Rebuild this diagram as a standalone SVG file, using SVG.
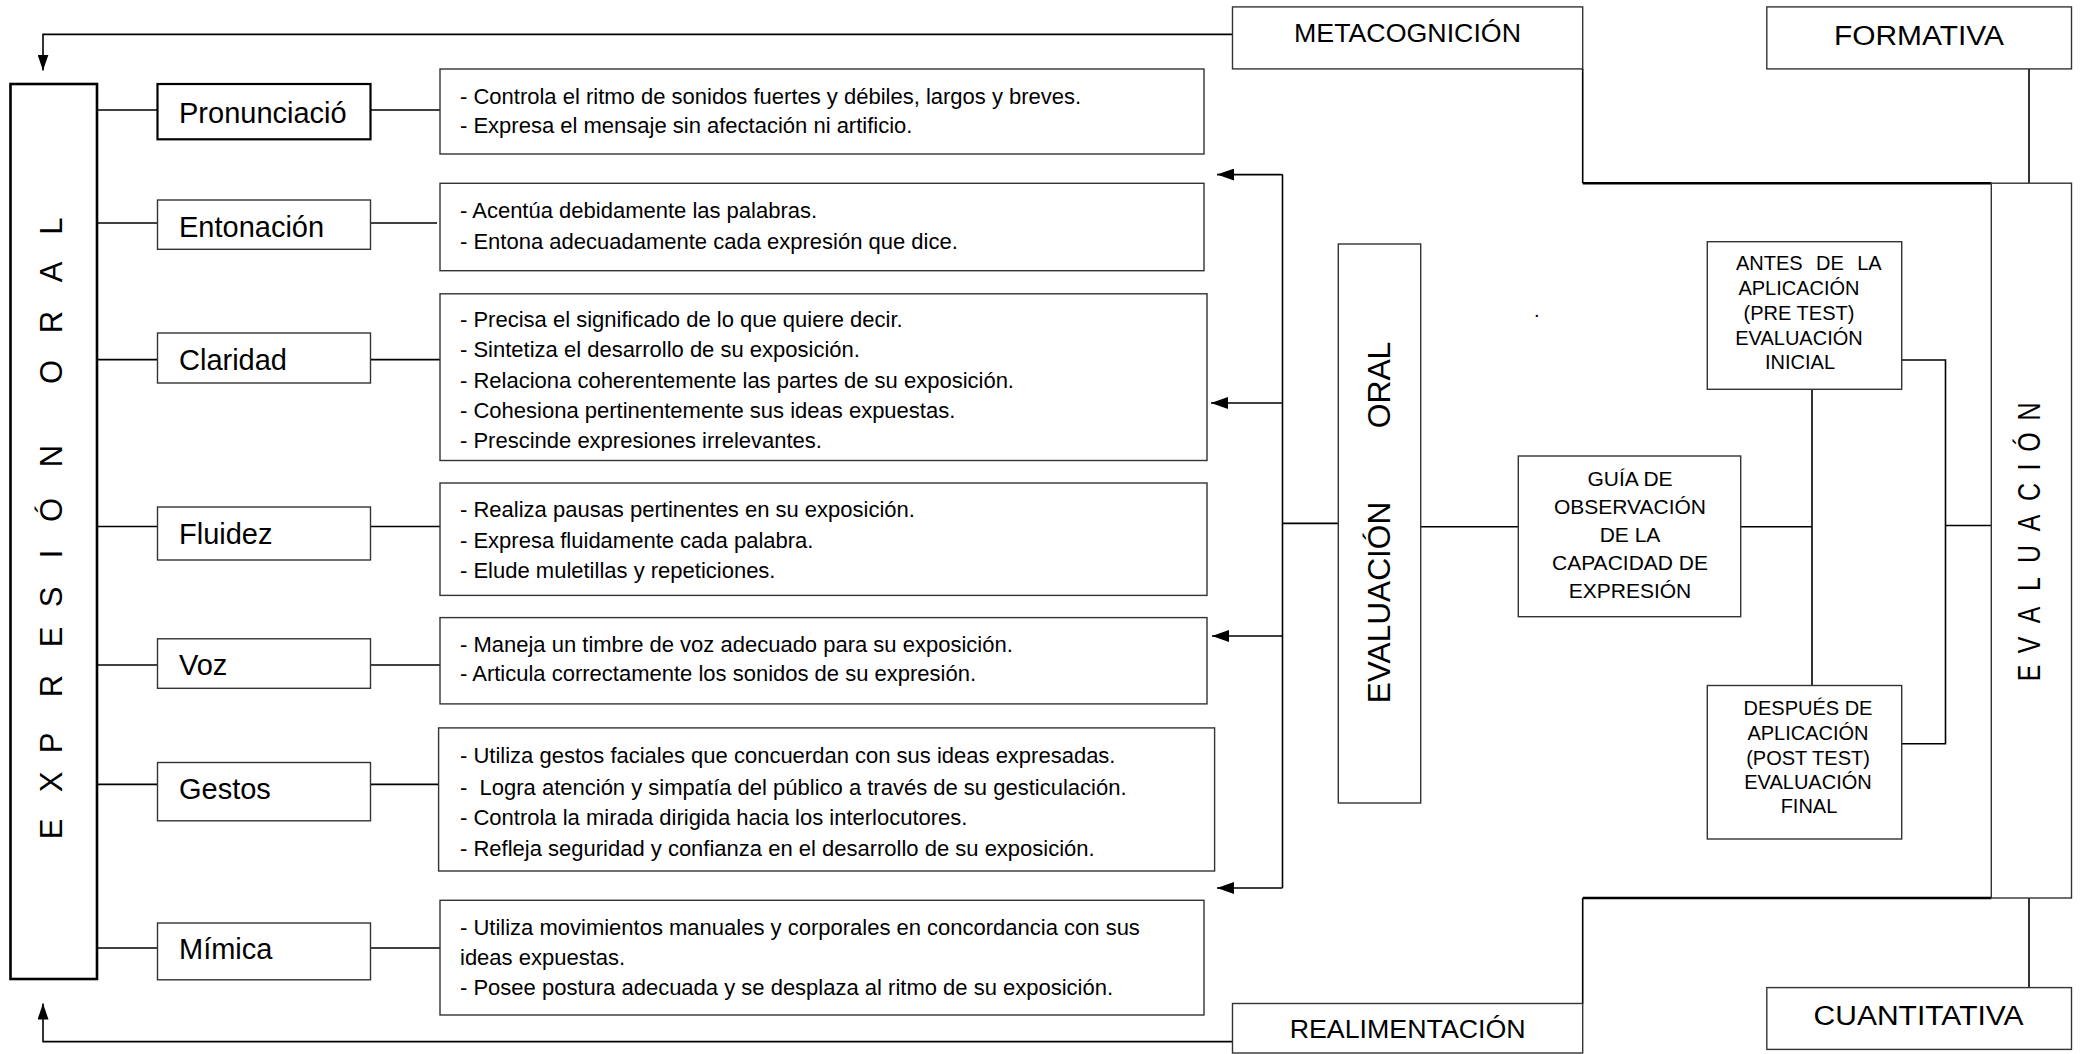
<svg xmlns="http://www.w3.org/2000/svg" width="2080" height="1054" viewBox="0 0 2080 1054">
<style>
.bg{fill:#fff}
.box{fill:#fff;stroke:#333;stroke-width:1.4}
.boxb{fill:#fff;stroke:#000;stroke-width:2.2}
.boxk{fill:#fff;stroke:#000;stroke-width:2.6}
.ln{fill:none;stroke:#000;stroke-width:1.6}
.lk{fill:none;stroke:#000;stroke-width:2.6}
.t{font-family:"Liberation Sans",Arial,sans-serif;fill:#000}
.lbl{font-size:29px}
.d{font-size:22px;white-space:pre}
.s{font-size:20px}
.g{font-size:21px}
.h{font-size:26px}
.h2{font-size:27px}
.vv{font-size:31px}
.ve{font-size:32px}
.vo{font-size:32px}
</style>
<defs>
<marker id="ah" markerUnits="userSpaceOnUse" markerWidth="17" markerHeight="12" refX="17" refY="6" orient="auto">
<path d="M0,0 L17,6 L0,12 z" fill="#000"/>
</marker>
<marker id="ahs" markerUnits="userSpaceOnUse" markerWidth="16" markerHeight="11" refX="16" refY="5.5" orient="auto">
<path d="M0,0 L16,5.5 L0,11 z" fill="#000"/>
</marker>
<clipPath id="clip3"><rect x="440" y="293" width="767" height="158"/></clipPath>
</defs>
<rect class="bg" x="0" y="0" width="2080" height="1054"/>

<g id="connectors">
<path class="ln" d="M1232.5,34.4 H43 V70.6" marker-end="url(#ahs)"/>
<path class="ln" d="M1232.5,1041.6 H43 V1003.5" marker-end="url(#ahs)"/>
<line class="ln" x1="97" y1="110" x2="157.5" y2="110"/>
<line class="ln" x1="370.5" y1="110" x2="440" y2="110"/>
<line class="ln" x1="97" y1="223" x2="157.5" y2="223"/>
<line class="ln" x1="370.5" y1="223" x2="437" y2="223"/>
<line class="ln" x1="97" y1="359.6" x2="157.5" y2="359.6"/>
<line class="ln" x1="370.5" y1="359.6" x2="440" y2="359.6"/>
<line class="ln" x1="97" y1="526.5" x2="157.5" y2="526.5"/>
<line class="ln" x1="370.5" y1="526.5" x2="440" y2="526.5"/>
<line class="ln" x1="97" y1="665" x2="157.5" y2="665"/>
<line class="ln" x1="370.5" y1="665" x2="440" y2="665"/>
<line class="ln" x1="97" y1="784.4" x2="157.5" y2="784.4"/>
<line class="ln" x1="370.5" y1="784.4" x2="438.6" y2="784.4"/>
<line class="ln" x1="97" y1="948" x2="157.5" y2="948"/>
<line class="ln" x1="370.5" y1="948" x2="440" y2="948"/>
<line class="ln" x1="1282.5" y1="174.6" x2="1282.5" y2="888"/>
<line class="ln" x1="1282.5" y1="174.6" x2="1217" y2="174.6" marker-end="url(#ah)"/>
<line class="ln" x1="1282.5" y1="403" x2="1211" y2="403" marker-end="url(#ah)"/>
<line class="ln" x1="1282.5" y1="636" x2="1212" y2="636" marker-end="url(#ah)"/>
<line class="ln" x1="1282.5" y1="888" x2="1217" y2="888" marker-end="url(#ah)"/>
<line class="ln" x1="1282.5" y1="523.4" x2="1338.3" y2="523.4"/>
<line class="ln" x1="1420.7" y1="526.7" x2="1518.3" y2="526.7"/>
<line class="ln" x1="1740.7" y1="526.7" x2="1812" y2="526.7"/>
<line class="ln" x1="1812" y1="389.3" x2="1812" y2="685.5"/>
<path class="ln" d="M1901.7,360 H1945.5 V743.8 H1901.7"/>
<line class="ln" x1="1945.5" y1="525.5" x2="1991.3" y2="525.5"/>
<path class="ln" d="M1582.7,68.9 V183.2"/>
<path class="lk" d="M1582.7,183.2 H1991.3"/>
<line class="ln" x1="2029" y1="68.9" x2="2029" y2="183.2"/>
<path class="ln" d="M1582.7,1003.5 V898"/>
<path class="lk" d="M1582.7,898 H1991.3"/>
<line class="ln" x1="2029" y1="898" x2="2029" y2="987.6"/>
</g>

<g id="expresion-oral">
<rect class="boxk" x="10.5" y="84" width="86.5" height="895"/>
<text class="t vv" transform="rotate(-90)" y="62" text-anchor="middle" x="-829 -782 -743 -686 -637 -597 -554 -510 -456 -372 -322 -272 -226">EXPRESIÓNORAL</text>
</g>

<g id="pronunciacion">
<rect class="boxb" x="157.5" y="84" width="213" height="55.3"/>
<text class="t lbl" x="179" y="123">Pronunciació</text>
</g>
<g id="entonacion">
<rect class="box" x="157.5" y="200" width="213" height="49.3"/>
<text class="t lbl" x="179" y="236.7">Entonación</text>
</g>
<g id="claridad">
<rect class="box" x="157.5" y="333" width="213" height="50"/>
<text class="t lbl" x="179" y="370">Claridad</text>
</g>
<g id="fluidez">
<rect class="box" x="157.5" y="507" width="213" height="53"/>
<text class="t lbl" x="179" y="544">Fluidez</text>
</g>
<g id="voz">
<rect class="box" x="157.5" y="638.8" width="213" height="49.5"/>
<text class="t lbl" x="179" y="675">Voz</text>
</g>
<g id="gestos">
<rect class="box" x="157.5" y="762.5" width="213" height="58.3"/>
<text class="t lbl" x="179" y="799">Gestos</text>
</g>
<g id="mimica">
<rect class="box" x="157.5" y="923" width="213" height="56.8"/>
<text class="t lbl" x="179" y="959">Mímica</text>
</g>

<g id="desc-pronunciacion">
<rect class="box" x="440" y="69" width="764" height="85"/>
<text class="t d" x="460" y="104">- Controla el ritmo de sonidos fuertes y débiles, largos y breves.</text>
<text class="t d" x="460" y="133">- Expresa el mensaje sin afectación ni artificio.</text>
</g>
<g id="desc-entonacion">
<rect class="box" x="440" y="183.3" width="764" height="87.4"/>
<text class="t d" x="460" y="217.5">- Acentúa debidamente las palabras.</text>
<text class="t d" x="460" y="248.5">- Entona adecuadamente cada expresión que dice.</text>
</g>
<g id="desc-claridad">
<rect class="box" x="440" y="293.8" width="767" height="166.7"/>
<text class="t d" x="460" y="327">- Precisa el significado de lo que quiere decir.</text>
<text class="t d" x="460" y="357.3">- Sintetiza el desarrollo de su exposición.</text>
<text class="t d" x="460" y="387.6">- Relaciona coherentemente las partes de su exposición.</text>
<text class="t d" x="460" y="417.9">- Cohesiona pertinentemente sus ideas expuestas.</text>
<text class="t d" x="460" y="448" clip-path="url(#clip3)">- Prescinde expresiones irrelevantes.</text>
</g>
<g id="desc-fluidez">
<rect class="box" x="440" y="483" width="767" height="112.4"/>
<text class="t d" x="460" y="516.6">- Realiza pausas pertinentes en su exposición.</text>
<text class="t d" x="460" y="547.5">- Expresa fluidamente cada palabra.</text>
<text class="t d" x="460" y="578.4">- Elude muletillas y repeticiones.</text>
</g>
<g id="desc-voz">
<rect class="box" x="440" y="617.6" width="767" height="86.3"/>
<text class="t d" x="460" y="652">- Maneja un timbre de voz adecuado para su exposición.</text>
<text class="t d" x="460" y="681">- Articula correctamente los sonidos de su expresión.</text>
</g>
<g id="desc-gestos">
<rect class="box" x="438.6" y="727.9" width="776" height="143.1"/>
<text class="t d" x="460" y="763">- Utiliza gestos faciales que concuerdan con sus ideas expresadas.</text>
<text class="t d" x="460" y="794.5">-  Logra atención y simpatía del público a través de su gesticulación.</text>
<text class="t d" x="460" y="825">- Controla la mirada dirigida hacia los interlocutores.</text>
<text class="t d" x="460" y="855.5">- Refleja seguridad y confianza en el desarrollo de su exposición.</text>
</g>
<g id="desc-mimica">
<rect class="box" x="440" y="900.3" width="764" height="114.7"/>
<text class="t d" x="460" y="935">- Utiliza movimientos manuales y corporales en concordancia con sus</text>
<text class="t d" x="460" y="965">ideas expuestas.</text>
<text class="t d" x="460" y="995">- Posee postura adecuada y se desplaza al ritmo de su exposición.</text>
</g>

<g id="metacognicion">
<rect class="box" x="1232.5" y="6.9" width="350.2" height="62"/>
<text class="t h" x="1407.5" y="42" text-anchor="middle" textLength="227" lengthAdjust="spacingAndGlyphs">METACOGNICIÓN</text>
</g>
<g id="formativa">
<rect class="box" x="1766.8" y="6.9" width="304.7" height="62"/>
<text class="t h2" x="1919" y="44.8" text-anchor="middle" textLength="170" lengthAdjust="spacingAndGlyphs">FORMATIVA</text>
</g>
<g id="realimentacion">
<rect class="box" x="1232.5" y="1003.5" width="350.2" height="49.5"/>
<text class="t h" x="1407.7" y="1037.7" text-anchor="middle" textLength="236" lengthAdjust="spacingAndGlyphs">REALIMENTACIÓN</text>
</g>
<g id="cuantitativa">
<rect class="box" x="1766.8" y="987.6" width="304.7" height="61.8"/>
<text class="t h2" x="1918.6" y="1024.6" text-anchor="middle" textLength="210" lengthAdjust="spacingAndGlyphs">CUANTITATIVA</text>
</g>

<g id="evaluacion-oral">
<rect class="box" x="1338.3" y="244" width="82.4" height="559"/>
<text class="t vo" transform="rotate(-90)" x="-703.3" y="1390" textLength="201.6" lengthAdjust="spacingAndGlyphs">EVALUACIÓN</text>
<text class="t vo" transform="rotate(-90)" x="-428.3" y="1390" textLength="86.6" lengthAdjust="spacingAndGlyphs">ORAL</text>
</g>

<text class="t s" x="1534" y="317">.</text>

<g id="guia">
<rect class="box" x="1518.3" y="456" width="222.4" height="160.7"/>
<text class="t g" text-anchor="middle" x="1630" y="486">GUÍA DE</text>
<text class="t g" text-anchor="middle" x="1630" y="514">OBSERVACIÓN</text>
<text class="t g" text-anchor="middle" x="1630" y="542">DE LA</text>
<text class="t g" text-anchor="middle" x="1630" y="570">CAPACIDAD DE</text>
<text class="t g" text-anchor="middle" x="1630" y="598">EXPRESIÓN</text>
</g>

<g id="antes">
<rect class="box" x="1707.3" y="241.7" width="194.4" height="147.6"/>
<text class="t s" y="270"><tspan x="1736">ANTES</tspan><tspan x="1816">DE</tspan><tspan x="1857.2">LA</tspan></text>
<text class="t s" text-anchor="middle" x="1799" y="295">APLICACIÓN</text>
<text class="t s" text-anchor="middle" x="1799" y="320">(PRE TEST)</text>
<text class="t s" text-anchor="middle" x="1799" y="344.5">EVALUACIÓN</text>
<text class="t s" text-anchor="middle" x="1800" y="368.5">INICIAL</text>
</g>

<g id="despues">
<rect class="box" x="1707.3" y="685.5" width="194.4" height="153.5"/>
<text class="t s" text-anchor="middle" x="1808" y="714.8">DESPUÉS DE</text>
<text class="t s" text-anchor="middle" x="1808" y="739.5">APLICACIÓN</text>
<text class="t s" text-anchor="middle" x="1808" y="764.5">(POST TEST)</text>
<text class="t s" text-anchor="middle" x="1808" y="789">EVALUACIÓN</text>
<text class="t s" text-anchor="middle" x="1809" y="812.7">FINAL</text>
</g>

<g id="evaluacion">
<rect class="box" x="1991.3" y="183.2" width="80.2" height="714.8"/>
<text class="t ve" transform="rotate(-90) scale(0.78 1)" y="2040" text-anchor="middle" x="-862.8 -826.9 -788.5 -748.7 -710.3 -670.5 -630.8 -598.7 -566.7 -527.7">EVALUACIÓN</text>
</g>
</svg>
